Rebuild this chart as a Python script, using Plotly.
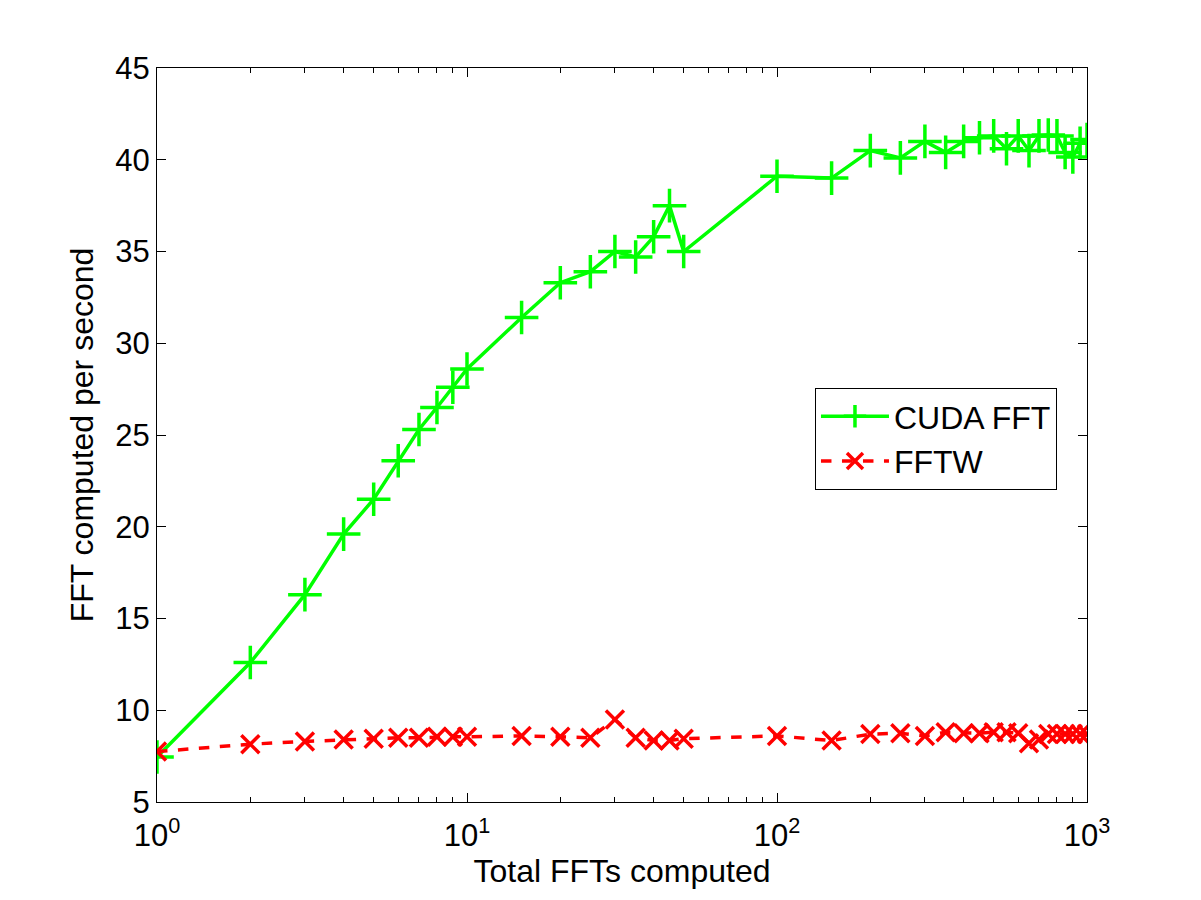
import plotly.graph_objects as go

x_vals = [1, 2, 3, 4, 5, 6, 7, 8, 9, 10, 15, 20, 25, 30, 35, 40, 45, 50,
          100, 150, 200, 250, 300, 350, 400, 450, 500, 550, 600, 650, 700,
          750, 800, 850, 900, 950, 1000]
cuda_fft = [7.45, 12.6, 16.3, 19.6, 21.5, 23.6, 25.3, 26.5, 27.6, 28.6,
            31.4, 33.3, 33.9, 35.0, 34.7, 35.8, 37.5, 35.0,
            39.1, 39.0, 40.5, 40.1, 41.0, 40.4, 41.0, 41.2, 41.3, 40.6,
            41.3, 40.5, 41.3, 41.35, 41.3, 40.4, 40.15, 40.9, 41.1]
fftw = [7.75, 8.15, 8.3, 8.4, 8.45, 8.5, 8.5, 8.55, 8.55, 8.55,
        8.6, 8.55, 8.5, 9.5, 8.5, 8.35, 8.35, 8.45,
        8.6, 8.35, 8.7, 8.75, 8.6, 8.8, 8.75, 8.75, 8.8, 8.8,
        8.75, 8.2, 8.4, 8.7, 8.7, 8.7, 8.7, 8.7, 8.7]
x_ticks = [1, 10, 100, 1000]
x_tick_text = ["10<sup>0</sup>", "10<sup>1</sup>", "10<sup>2</sup>", "10<sup>3</sup>"]
y_ticks = [5, 10, 15, 20, 25, 30, 35, 40, 45]
minor_x = [m * d for d in (1, 10, 100) for m in range(2, 10)]

font = "Liberation Sans, Arial, Helvetica, sans-serif"

fig = go.Figure()
fig.add_trace(go.Scatter(
    x=x_vals, y=cuda_fft, mode="lines+markers", name="CUDA FFT",
    line=dict(color="#00ff00", width=3.5),
    marker=dict(symbol="cross-thin", size=24, line=dict(color="#00ff00", width=3.5)),
))
fig.add_trace(go.Scatter(
    x=x_vals, y=fftw, mode="lines+markers", name="FFTW",
    line=dict(color="#ff0000", width=3.5, dash="dash"),
    marker=dict(symbol="x-thin", size=18, line=dict(color="#ff0000", width=3.5)),
))

fig.update_layout(
    width=1201, height=900,
    paper_bgcolor="white", plot_bgcolor="white",
    margin=dict(l=149, r=122, t=60, b=106),
    font=dict(family=font, size=32, color="black"),
    showlegend=True,
    legend=dict(
        x=0.7075, y=0.564, xanchor="left", yanchor="top",
        bordercolor="black", borderwidth=1, bgcolor="white",
        font=dict(size=32), itemwidth=68, tracegroupgap=0,
    ),
)
fig.update_xaxes(
    type="log", range=[0, 3],
    tickvals=x_ticks, ticktext=x_tick_text,
    ticks="inside", ticklen=9, tickwidth=1, tickcolor="black",
    showline=True, linecolor="black", linewidth=1, mirror="allticks",
    showgrid=False, zeroline=False,
    minor=dict(tickvals=minor_x, ticks="inside", ticklen=5, tickcolor="black", showgrid=False),
    title=dict(text="Total FFTs computed", font=dict(size=32), standoff=2),
    tickfont=dict(size=31), ticklabelstandoff=6,
)
fig.update_yaxes(
    range=[5, 45], tickvals=y_ticks,
    ticks="inside", ticklen=9, tickwidth=1, tickcolor="black",
    showline=True, linecolor="black", linewidth=1, mirror="allticks",
    showgrid=False, zeroline=False,
    title=dict(text="FFT computed per second", font=dict(size=32), standoff=12),
    tickfont=dict(size=31),
)

fig.write_html("out.html")
